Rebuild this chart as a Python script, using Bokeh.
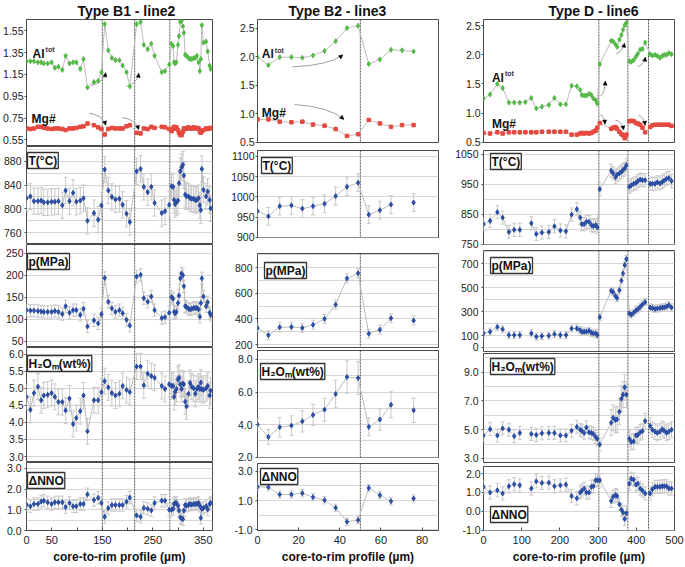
from bokeh.plotting import figure
from bokeh.models import (Range1d, FixedTicker, NumeralTickFormatter, Span, Label,
                          Whisker, ColumnDataSource, TeeHead, Arrow, NormalHead)
from bokeh.layouts import row, column
from bokeh.embed import file_html
from bokeh.resources import INLINE

NaN = float("nan")

# ---------------- Type B1 - line2 ----------------
B1_x = [0, 7.7, 14.8, 22.6, 29.0, 34.2, 41.9, 49.6, 56.1, 63.2, 70.9, 77.4, 85.1, 92.2, 98.6, 106.4, 112.8, 120.6, 133.5, 141.8, 148.3,
        154.7, 161.8, 168.9, 176.0, 183.8, 190.2, 197.9, 204.4,
        217.9, 225.7, 232.1, 239.8, 246.9, 253.4, 267.6, 274.0, 282.4,
        286.9, 290.1, 292.1, 294.0, 296.6, 299.8, 301.7, 304.3, 306.9, 309.5, 311.4, 314.0, 316.6, 320.4,
        323.7, 326.9, 330.8, 334.0, 337.2, 340.4, 343.0, 344.9, 346.9, 350.1, 355.3, 358.5, 362.4, 364.3]
B1_al = [1.27, 1.27, 1.27, 1.26, 1.26, 1.25, 1.25, 1.26, 1.21, 1.22, 1.19, 1.32, 1.25, 1.26, 1.26, 1.20, 1.29, 1.03, 1.08, 1.09, 1.17,
         1.61, 1.37, 1.30, 1.28, 1.28, 1.23, 1.17, 1.04,
         1.61, 1.63, 1.42, 1.38, 1.43, 1.32, 1.17, 1.18, 1.24,
         1.43, 1.41, 1.26, 1.25, 1.26, 1.42, 1.50, 1.63, 1.64, 1.59, 1.53, 1.33, 1.32, 1.30,
         1.29, 1.29, 1.30, 1.30, 1.32, 1.26, 1.18, 1.29, 1.60, 1.44, 1.45, 1.36, 1.23, 1.20]
B1_mg = [0.655, 0.65, 0.655, 0.67, 0.67, 0.66, 0.655, 0.65, 0.655, 0.655, 0.65, 0.64, 0.655, 0.655, 0.66, 0.67, 0.675, 0.70, 0.685, 0.665, 0.65,
         0.60, 0.65, 0.66, 0.655, 0.655, 0.655, 0.675, 0.685,
         0.615, 0.61, 0.655, 0.65, 0.67, 0.66, 0.67, 0.665, 0.65,
         0.63, 0.655, 0.67, 0.655, 0.665, 0.64, 0.615, 0.595, 0.595, 0.625, 0.655, 0.65, 0.655, 0.665,
         0.655, 0.655, 0.665, 0.655, 0.66, 0.655, 0.625, 0.615, 0.63, 0.64, 0.655, 0.65, 0.655, 0.66]
B1_t = [818, 821, 813, 813, 814, 811, 811, 812, 812, 813, 806, 831, 813, 827, 812, 814, 818, 780, 793, 782, 806,
        866, 831, 820, 816, 817, 807, 792, 778,
        863, 867, 837, 828, 837, 810, 793, 796, 807,
        838, 837, 815, 808, 811, 814, 843, 863, 870, 874, 856, 824, 821, 821,
        818, 817, 817, 815, 815, 818, 806, 798, 867, 832, 821, 829, 815, 801]
B1_p = [121, 120, 120, 119, 118, 117, 117, 117, 119, 117, 112, 130, 115, 121, 121, 110, 124, 84, 98, 91, 112,
        194, 140, 125, 117, 121, 114, 99, 86,
        197, 201, 148, 140, 152, 121, 103, 105, 115,
        151, 147, 117, 114, 117, 137, 154, 193, 204, 200, 175, 130, 128, 124,
        123, 124, 126, 126, 126, 123, 106, 137, 193, 152, 130, 139, 115, 110]
B1_h2o = [4.75, 4.37, 4.86, 5.05, 4.65, 4.79, 4.81, 4.86, 4.75, 4.60, 4.60, 4.35, 4.70, 3.95, 4.13, 4.33, 4.79, 3.74, 4.65, 4.65, 4.89,
          5.21, 5.03, 4.86, 4.79, 4.84, 5.07, 4.95, 4.89,
          5.64, 5.64, 5.09, 5.43, 5.36, 5.31, 5.07, 4.98, 5.12,
          5.07, 5.07, 4.75, 4.89, 4.98, 5.26, 5.31, 5.12, 4.98, 5.14, 5.12, 4.61, 4.47, 4.84,
          5.16, 5.05, 5.00, 4.84, 4.98, 5.05, 4.98, 5.17, 4.98, 4.95, 5.00, 5.07, 4.79, 4.93]
B1_nno = [1.25, 1.17, 1.28, 1.28, 1.40, 1.44, 1.36, 1.28, 1.36, 1.36, 1.36, 1.13, 1.33, 1.17, 1.17, 1.28, 1.28, 1.75, 1.47, 1.58, 1.33,
          0.66, 1.08, 1.23, 1.23, 1.23, 1.23, 1.39, 1.59,
          0.73, 0.66, 1.09, 1.05, 0.97, 1.33, 1.44, 1.44, 1.00,
          1.00, 1.05, 1.28, 1.33, 1.33, 1.20, 0.97, 0.63, 0.58, 0.55, 0.97, 1.23, 1.20, 1.23,
          1.28, 1.25, 1.28, 1.28, 1.28, 1.33, 1.20, 0.61, 1.05, 1.09, 1.17, 1.02, 1.28, 1.33]
B1_t_err, B1_p_err, B1_h2o_err, B1_nno_err = 22, 14, 0.38, 0.3
B1_lines = [150, 214, 283.5]
# arrows: (x0, y0, ctrl_x, ctrl_y, x1, y1)
B1_arrows = [(127, 1.05, 152, 1.07, 157, 1.165), (198, 1.04, 220, 1.07, 222, 1.16),
             (124, 0.795, 150, 0.78, 157, 0.685), (190, 0.755, 215, 0.74, 222, 0.645)]

# ---------------- Type B2 - line3 ----------------
B2_x = [0, 5.3, 10.8, 16.5, 21.8, 27.0, 32.6, 38.0, 43.5, 48.9, 54.1, 59.5, 64.9, 70.3, 75.9]
B2_al = [1.99, 1.85, 1.99, 1.99, 1.98, 2.02, 2.10, 2.27, 2.50, 2.54, 1.87, 1.95, 2.12, 2.11, 2.09]
B2_mg = [0.90, 0.90, 0.86, 0.85, 0.86, 0.81, 0.79, 0.73, 0.61, 0.64, 0.89, 0.83, 0.77, 0.80, 0.80]
B2_t = [965, 952, 977, 979, 971, 977, 983, 1002, 1025, 1035, 956, 967, 981, NaN, 986]
B2_p = [329, 273, 334, 337, 329, 354, 400, 511, 715, 756, 284, 316, 405, NaN, 387]
B2_h2o = [4.00, 3.24, 3.84, 3.94, 4.20, 4.59, 4.92, 5.88, 6.92, 6.86, 3.86, 4.31, 5.22, NaN, 4.88]
B2_nno = [1.93, 1.91, 1.41, 1.41, 1.50, 1.23, 1.02, 0.50, -0.45, -0.34, 1.86, 1.36, 0.95, NaN, 1.14]
B2_h2o_err = [0.40, 0.45, 0.60, 0.60, 0.65, 0.65, 0.70, 0.85, 1.00, 1.00, 0.55, 0.65, 0.80, NaN, 0.75]
B2_t_err, B2_p_err, B2_nno_err = 22, 35, 0.25
B2_lines = [50]
B2_arrows = [(17, 1.82, 35, 1.85, 41.5, 2.03), (18, 1.16, 35, 1.12, 42, 0.90)]

# ---------------- Type D - line6 ----------------
D_x = [0, 17.3, 36.3, 50.1, 66.5, 80.3, 95.0, 109.7, 125.2, 138.2, 152.8, 171.0, 185.7, 201.2, 215.9, 230.6, 244.4,
       253.0, 257.3, 263.4, 269.4, 276.3, 282.4, 287.6, 293.6, 297.9,
       304.4,
       334.2, 339.4, 345.4, 349.7, 355.8, 361.0, 365.3, 369.6, 374.0,
       381.7, 386.9, 393.0, 399.1, 404.1, 410.2, 416.2, 423.1,
       436.1, 442.1, 449.0, 455.1, 462.0, 468.0, 473.2, 479.3, 485.3, 492.2]
D_al = [1.25, 1.32, 1.50, 1.43, 1.18, 1.18, 1.18, 1.19, 1.26, 1.08, 1.11, 1.14, 1.26, 1.15, 1.15, 1.47, 1.46,
        1.40, 1.31, 1.30, 1.30, 1.33, 1.31, 1.25, 1.22, 1.16,
        1.84,
        2.24, 2.23, 2.18, 2.14, 2.26, 2.34, 2.43, 2.51, 2.55,
        1.89, 1.88, 1.91, 1.97, 2.02, 2.09, 2.10, 2.21,
        2.01, 1.99, 2.00, 1.98, 1.95, 1.98, 2.00, 2.00, 2.03, 2.01]
D_mg = [0.66, 0.65, 0.67, 0.65, 0.67, 0.67, 0.67, 0.67, 0.67, 0.67, 0.68, 0.68, 0.68, 0.68, 0.68, 0.63, 0.63,
        0.65, 0.66, 0.65, 0.66, 0.65, 0.66, 0.68, 0.70, 0.75,
        0.83,
        0.73, 0.75, 0.76, 0.73, 0.68, 0.64, 0.62, 0.57, 0.63,
        0.86, 0.87, 0.86, 0.83, 0.82, 0.80, 0.75, 0.67,
        0.76, 0.79, 0.80, 0.80, 0.80, 0.80, 0.80, 0.80, 0.80, 0.78]
D_t = [817, 828, 857, 839, 791, 798, 798, NaN, 820, 784, 789, 791, 810, 796, 793, 849, 867,
       839, 817, 817, 825, 825, 814, 810, 814, 807,
       934,
       996, 987, 974, 982, 987, 992, 998, 1003, 1014,
       942, 947, 952, 955, 961, 966, 964, 964,
       952, 952, 952, 957, 953, 958, 963, 969, 971, 961]
D_p = [118, 132, 172, 153, 104, 104, 104, NaN, 118, 91, 96, 99, 112, 104, 104, 159, 159,
       145, 132, 132, 132, 140, 123, 118, 118, 104,
       254,
       475, 465, 430, 415, 480, 560, 620, 690, 740,
       285, 275, 290, 310, 320, 340, 360, 380,
       335, 330, 322, 327, 330, 335, 335, 343, 354, 335]
D_h2o = [4.60, 5.04, 4.60, 5.09, 5.00, 4.55, 4.78, NaN, 4.71, 4.64, 4.75, 4.78, 4.78, 4.60, 4.60, 4.93, 5.20,
         5.00, 4.93, 4.78, 5.16, 4.82, 4.78, 4.71, 4.49, 4.37,
         3.97,
         5.49, 5.83, 5.67, 5.72, 6.25, 7.15, 7.44, 7.95, 7.44,
         4.37, 4.15, 4.19, 4.60, 4.64, 4.82, 4.90, 5.60,
         5.27, 5.00, 4.87, 4.78, 4.87, 5.04, 4.93, 4.78, 4.87, 5.00]
D_nno = [1.30, 1.00, 1.12, 0.95, 1.33, 1.44, 1.38, NaN, 1.21, 1.59, 1.51, 1.52, 1.33, 1.38, 1.42, 0.81, 0.69,
         1.00, 1.09, 1.21, 1.00, 1.00, 1.30, 1.33, 1.65, 1.65,
         1.65,
         0.55, 0.77, 0.86, 0.81, 0.37, 0.08, -0.06, -0.41, -0.10,
         1.47, 1.73, 1.68, 1.42, 1.47, 1.21, 1.10, 0.95,
         0.95, 1.17, 1.30, 1.30, 1.30, 1.33, 1.33, 1.33, 1.21, 1.21]
D_h2o_err = [0.45] * 27 + [0.9] * 9 + [0.55] * 8 + [0.55] * 10
D_t_err, D_p_err, D_nno_err = 22, 30, 0.35
D_lines = [302, 378, 432]
D_arrows = [(306, 1.30, 317, 1.32, 319, 1.55), (348, 2.02, 365, 2.06, 369, 2.20), (404, 1.80, 420, 1.83, 424, 1.96),
            (306, 0.97, 316, 0.96, 318, 0.81), (345, 0.88, 362, 0.86, 367, 0.71), (406, 0.96, 420, 0.94, 423, 0.79)]

# ---------------- style ----------------
FONT = "Liberation Sans"
BLUE = "#2b4ea3"
GREEN = "#55b947"
RED = "#e5493f"
LINE = "#bdbdbd"
ERR = "#c8c8c8"
DARK = "#4a4a4a"
GRID = "#d6d6d6"
XLABEL = "core-to-rim profile (µm)"
H2O_LABEL = "H\u2082O\u2098(wt%)"

COLUMNS = [
    dict(title="Type B1 - line2", title_dx=51, x=B1_x, xrange=(0, 368), xticks=[0, 50, 150, 250, 350], xminor=[100, 200, 300],
         lines=B1_lines, width=222, bl=24, br=10,
         frames=[(18, 146), (146, 244), (244, 347), (347, 462), (462, 531)], gaps=[0, 0, 0, 0, 35],
         al=B1_al, mg=B1_mg, al_lab=(12, 1.34), mg_lab=(10, 0.745), arrows=B1_arrows,
         top=dict(yr=(0.49, 1.652), ticks=[0.55, 0.75, 0.95, 1.15, 1.35, 1.55], fmt="0.00"),
         panels=[
             dict(y=B1_t, err=B1_t_err, yr=(740.4, 904.6), ticks=[760, 800, 840, 880], minor=[780, 820, 860, 900], fmt="0",
                  label="T(°C)", off=(1, 6), bottom=False),
             dict(y=B1_p, err=B1_p_err, yr=(36.4, 269.7), ticks=[50, 100, 150, 200, 250], minor=[], fmt="0",
                  label="p(MPa)", off=(1, 9), bottom=False),
             dict(y=B1_h2o, err=B1_h2o_err, yr=(2.824, 6.198), ticks=[3.0, 3.5, 4.0, 4.5, 5.0, 5.5, 6.0], minor=[], fmt="0.0",
                  label=H2O_LABEL, off=(1, 8), bottom=False),
             dict(y=B1_nno, err=B1_nno_err, yr=(0, 3.286), ticks=[0, 1, 2, 3], minor=[0.5, 1.5, 2.5], fmt="0.0",
                  label="ΔNNO", off=(1, 10), bottom=False),
         ]),
    dict(title="Type B2 - line3", title_dx=31, x=B2_x, xrange=(0, 88), xticks=[0, 20, 40, 60, 80], xminor=[],
         lines=B2_lines, width=225, bl=35, br=9,
         frames=[(18, 142), (150, 237), (253, 347), (350, 457), (463, 530)], gaps=[6, 8, 3, 6, 36],
         al=B2_al, mg=B2_mg, al_lab=(2.1, 2.04), mg_lab=(2.1, 1.01), arrows=B2_arrows,
         top=dict(yr=(0.495, 2.65), ticks=[0.5, 1.0, 1.5, 2.0, 2.5], fmt="0.0"),
         panels=[
             dict(y=B2_t, err=B2_t_err, yr=(899.5, 1114.8), ticks=[900, 950, 1000, 1050, 1100], minor=[], fmt="0",
                  label="T(°C)", off=(4, 7), bottom=False),
             dict(y=B2_p, err=B2_p_err, yr=(176.6, 909.9), ticks=[200, 400, 600, 800], minor=[300, 500, 700, 900], fmt="0",
                  label="p(MPa)", off=(7, 9), bottom=False),
             dict(y=B2_h2o, err=B2_h2o_err, yr=(1.98, 8.55), ticks=[2, 4, 6, 8], minor=[3, 5, 7], fmt="0.0",
                  label=H2O_LABEL, off=(3, 13), bottom=False),
             dict(y=B2_nno, err=B2_nno_err, yr=(-1.05, 3.53), ticks=[-1, 1, 3], minor=[0, 2], fmt="0.0",
                  label="ΔNNO", off=(3, 5), bottom=False),
         ]),
    dict(title="Type D - line6", title_dx=65, x=D_x, xrange=(0, 500), xticks=[0, 100, 200, 300, 400, 500], xminor=[],
         lines=D_lines, width=237, bl=36, br=10,
         frames=[(18, 142), (150, 244), (250, 351), (353, 462), (466, 530)], gaps=[6, 6, 2, 4, 36],
         al=D_al, mg=D_mg, al_lab=(22, 1.61), mg_lab=(22, 0.81), arrows=D_arrows,
         top=dict(yr=(0.495, 2.607), ticks=[0.5, 1.0, 1.5, 2.0, 2.5], fmt="0.0"),
         panels=[
             dict(y=D_t, err=D_t_err, yr=(749, 1063.3), ticks=[750, 850, 950, 1050], minor=[800, 900, 1000], fmt="0",
                  label="T(°C)", off=(7, 3), bottom=False),
             dict(y=D_p, err=D_p_err, yr=(-33.5, 812), ticks=[0, 100, 300, 500, 700], minor=[200, 400, 600, 800], fmt="0",
                  label="p(MPa)", off=(7, 7), bottom=False),
             dict(y=D_h2o, err=D_h2o_err, yr=(2.72, 10.3), ticks=[3, 5, 7, 9], minor=[4, 6, 8, 10], fmt="0.0",
                  label=H2O_LABEL, off=(7, 5), bottom=False),
             dict(y=D_nno, err=D_nno_err, yr=(-1.02, 2.38), ticks=[-1, 0, 1, 2], minor=[], fmt="0.0",
                  label="ΔNNO", off=(7, 8), bottom=True),
         ]),
]


def style_yaxis(p, ticks, minor, fmt, grid):
    ya = p.yaxis[0]
    ya.ticker = FixedTicker(ticks=ticks, minor_ticks=minor)
    ya.formatter = NumeralTickFormatter(format=fmt)
    ya.axis_line_color = None
    ya.major_tick_out = 2
    ya.major_tick_in = 0
    ya.major_tick_line_color = DARK
    ya.minor_tick_line_color = None
    ya.major_label_text_font = FONT
    ya.major_label_text_font_size = "10.5px"
    ya.major_label_text_color = "#222222"
    ya.major_label_standoff = 1
    p.ygrid.grid_line_color = GRID if grid else None
    p.ygrid.minor_grid_line_color = GRID if (grid and minor) else None


def make_column(c):
    figs = []
    frames = c["frames"]
    gaps = c["gaps"]
    canvas_top = 0
    for i in range(5):
        top, bot = frames[i]
        bb = gaps[i]
        h = bot + bb - canvas_top
        spec = c["top"] if i == 0 else c["panels"][i - 1]
        p = figure(width=c["width"], height=h,
                   x_range=Range1d(*c["xrange"]), y_range=Range1d(*spec["yr"]),
                   title=(c["title"] if i == 0 else None),
                   output_backend="svg", toolbar_location=None,
                   min_border_left=c["bl"], min_border_right=c["br"],
                   min_border_top=top - canvas_top, min_border_bottom=bb)
        canvas_top = bot + bb
        p.outline_line_color = DARK
        p.outline_line_width = 1
        p.xgrid.visible = False
        if i == 0:
            p.title.align = "left"
            p.title.offset = c["title_dx"]
            p.title.text_font = FONT
            p.title.text_font_size = "14px"
            p.title.text_font_style = "bold"
            p.title.text_color = "#111111"
            p.title.standoff = 1
        if i == 4:
            xa = p.xaxis[0]
            xa.ticker = FixedTicker(ticks=c["xticks"], minor_ticks=c["xminor"])
            xa.axis_line_color = None
            xa.major_tick_in = 3
            xa.major_tick_out = 0
            xa.minor_tick_in = 3
            xa.minor_tick_out = 0
            xa.major_tick_line_color = DARK
            xa.minor_tick_line_color = DARK
            xa.major_label_text_font = FONT
            xa.major_label_text_font_size = "11px"
            xa.major_label_text_color = "#222222"
            xa.major_label_standoff = 5
            xa.axis_label = XLABEL
            xa.axis_label_text_font = FONT
            xa.axis_label_text_font_size = "12px"
            xa.axis_label_text_font_style = "bold"
            xa.axis_label_text_color = "#111111"
            xa.axis_label_standoff = 3
        else:
            p.xaxis.visible = False

        for loc in c["lines"]:
            p.add_layout(Span(location=loc, dimension="height", line_color="#555555",
                              line_width=1, line_dash="2 1", level="underlay"))

        x = c["x"]
        if i == 0:
            style_yaxis(p, spec["ticks"], [], spec["fmt"], False)
            for (x0, y0, cx, cy, x1, y1) in c["arrows"]:
                p.quadratic(x0=[x0], y0=[y0], x1=[x1], y1=[y1], cx=[cx], cy=[cy],
                            line_color="#a0a0a0", line_width=1)
                p.add_layout(Arrow(end=NormalHead(size=4, fill_color="black", line_color="black", line_width=0.5),
                                   x_start=cx, y_start=cy, x_end=x1, y_end=y1, line_alpha=0))
            p.line(x, c["al"], line_color=LINE, line_width=1)
            p.line(x, c["mg"], line_color=LINE, line_width=1)
            p.scatter(x, c["al"], marker="diamond", size=5, fill_color=GREEN, line_color=GREEN)
            p.scatter(x, c["mg"], marker="square", size=3.5, fill_color=RED, line_color=RED)
            ax, ay = c["al_lab"]
            p.add_layout(Label(x=ax, y=ay, text="Al", anchor="center_left", text_font=FONT,
                               text_font_size="12px", text_font_style="bold", text_color="#111111"))
            p.add_layout(Label(x=ax, y=ay, text="tot", anchor="center_left", x_offset=13, y_offset=4,
                               text_font=FONT, text_font_size="7px", text_font_style="bold", text_color="#333333"))
            mx, my = c["mg_lab"]
            p.add_layout(Label(x=mx, y=my, text="Mg#", anchor="center_left", text_font=FONT,
                               text_font_size="12px", text_font_style="bold", text_color="#111111"))
        else:
            style_yaxis(p, spec["ticks"], spec["minor"], spec["fmt"], True)
            y = spec["y"]
            err = spec["err"]
            errs = err if isinstance(err, list) else [err] * len(y)
            src = ColumnDataSource(dict(base=x, upper=[v + e for v, e in zip(y, errs)],
                                        lower=[v - e for v, e in zip(y, errs)]))
            p.add_layout(Whisker(source=src, base="base", upper="upper", lower="lower",
                                 line_color=ERR, line_width=1,
                                 upper_head=TeeHead(size=4, line_color=ERR, line_width=1),
                                 lower_head=TeeHead(size=4, line_color=ERR, line_width=1)))
            p.line(x, y, line_color=LINE, line_width=1)
            p.scatter(x, y, marker="diamond", size=5, fill_color=BLUE, line_color=BLUE)
            dx, dy = spec["off"]
            yr = spec["yr"]
            if spec["bottom"]:
                lab = Label(x=c["xrange"][0], y=yr[0], x_offset=dx, y_offset=dy, anchor="bottom_left")
            else:
                lab = Label(x=c["xrange"][0], y=yr[1], x_offset=dx, y_offset=-dy, anchor="top_left")
            lab.text = spec["label"]
            lab.text_font = FONT
            lab.text_font_size = "12px"
            lab.text_font_style = "bold"
            lab.text_color = "#111111"
            lab.background_fill_color = "white"
            lab.border_line_color = "#333333"
            lab.border_line_width = 1.3
            lab.padding = 1
            p.add_layout(lab)
        figs.append(p)
    return column(*figs)


layout = row(*[make_column(c) for c in COLUMNS])
open("out.html", "w").write(file_html(layout, INLINE, "chart"))
